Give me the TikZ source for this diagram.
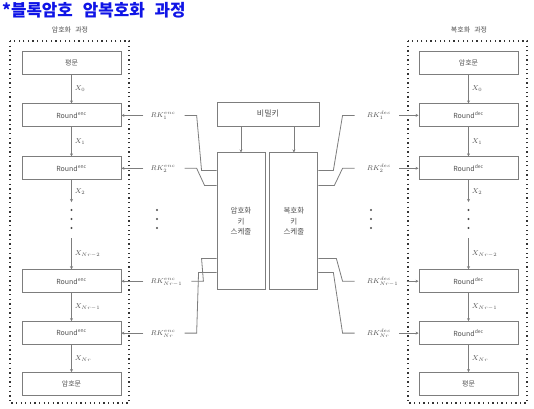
\documentclass[tikz,border=0pt]{standalone}
\usepackage{fontspec}
\usetikzlibrary{positioning,arrows.meta}
\newfontfamily\kr{Noto Sans CJK KR}
\newfontfamily\krtitle[WordSpace=2.6]{Noto Sans CJK KR}
\definecolor{titleblue}{RGB}{15,20,230}
\definecolor{wiregray}{RGB}{125,125,125}
\definecolor{textgray}{RGB}{80,80,80}

\begin{document}
\begin{tikzpicture}
	[x=1pt,y=-1pt,
	stage/.style={rectangle,draw=wiregray,line width=0.9pt,inner sep=0pt,minimum width=99pt,minimum height=23pt,font=\kr\fontsize{7}{8}\selectfont,text=textgray},
	sched/.style={rectangle,draw=wiregray,line width=0.9pt,inner sep=0pt,minimum width=48pt,minimum height=137pt,align=center,font=\kr\fontsize{7.5}{10.5}\selectfont,text=textgray},
	keylbl/.style={inner sep=1pt,text height=6pt,text depth=2pt,font=\fontsize{7}{8}\selectfont,text=textgray},
	xlbl/.style={right,inner sep=3pt,font=\fontsize{7}{8}\selectfont,text=textgray},
	ttl/.style={font=\kr\fontsize{7}{8}\selectfont,text=textgray},
	frame/.style={draw=black!80,line width=1.3pt,dash pattern=on 1.3pt off 3.3pt},
	wire/.style={draw=wiregray,line width=0.8pt},
	arr/.style={wire,-{Stealth[length=3pt,width=3pt]}}]
	\useasboundingbox (0,0) rectangle (534,408);

	\node [anchor=west,inner sep=0pt,text=titleblue,font=\krtitle\bfseries\fontsize{16.8}{18}\selectfont] (title) at (2,10) {*블록암호 암복호화 과정};

	% encryption side
	\draw [frame] (10,41) rectangle (129,403);
	\node [ttl] (encttl) at (70,30) {암호화 과정};
	\node [stage] (pa) at (71.5,62.5) {평문};
	\node [stage] (ea1) [below=29pt of pa] {Round\textsuperscript{enc}};
	\node [stage] (ea2) [below=29pt of ea1] {Round\textsuperscript{enc}};
	\node [stage] (ea3) [below=89pt of ea2] {Round\textsuperscript{enc}};
	\node [stage] (ea4) [below=28pt of ea3] {Round\textsuperscript{enc}};
	\node [stage] (ca) [below=27pt of ea4] {암호문};
	\coordinate (ga) at (71.5,202);
	\coordinate (ha) at (71.5,238);

	\draw [arr] (pa) -- node [xlbl]{$X_0$} (ea1);
	\draw [arr] (ea1) -- node [xlbl]{$X_1$} (ea2);
	\draw [arr] (ea2) -- node [xlbl]{$X_2$} (ga);
	\draw [arr] (ha) -- node [xlbl]{$X_{Nr-2}$} (ea3);
	\draw [arr] (ea3) -- node [xlbl]{$X_{Nr-1}$} (ea4);
	\draw [arr] (ea4) -- node [xlbl]{$X_{Nr}$} (ca);

	% decryption side
	\draw [frame] (408,41) rectangle (527,403);
	\node [ttl] (decttl) at (469,30) {복호화 과정};
	\node [stage] (cb) at (468.5,62.5) {암호문};
	\node [stage] (db1) [below=29pt of cb] {Round\textsuperscript{dec}};
	\node [stage] (db2) [below=29pt of db1] {Round\textsuperscript{dec}};
	\node [stage] (db3) [below=89pt of db2] {Round\textsuperscript{dec}};
	\node [stage] (db4) [below=28pt of db3] {Round\textsuperscript{dec}};
	\node [stage] (pb) [below=27pt of db4] {평문};
	\coordinate (gb) at (468.5,202);
	\coordinate (hb) at (468.5,238);

	\draw [arr] (cb) -- node [xlbl]{$X_0$} (db1);
	\draw [arr] (db1) -- node [xlbl]{$X_1$} (db2);
	\draw [arr] (db2) -- node [xlbl]{$X_2$} (gb);
	\draw [arr] (hb) -- node [xlbl]{$X_{Nr-2}$} (db3);
	\draw [arr] (db3) -- node [xlbl]{$X_{Nr-1}$} (db4);
	\draw [arr] (db4) -- node [xlbl]{$X_{Nr}$} (pb);

	% key schedule
	\node [stage,minimum width=102pt,minimum height=24pt,font=\kr\fontsize{8}{9}\selectfont] (key) at (268,114) {비밀키};
	\node [sched] (s1) [below right=26pt and 0pt of key.south west] {암호화\\키\\스케줄};
	\node [sched] (s2) [right=4pt of s1] {복호화\\키\\스케줄};
	\draw [arr] (s1.north |- key.south) -- (s1.north);
	\draw [arr] (s2.north |- key.south) -- (s2.north);

	% round keys
	\node [keylbl] (ka1) [right=28pt of ea1] {$RK^{enc}_1$};
	\node [keylbl] (ka2) [right=28pt of ea2] {$RK^{enc}_2$};
	\node [keylbl] (ka3) [right=28pt of ea3] {$RK^{enc}_{Nr-1}$};
	\node [keylbl] (ka4) [right=28pt of ea4] {$RK^{enc}_{Nr}$};
	\node [keylbl] (kb1) [left=53pt of db1,anchor=west] {$RK^{dec}_1$};
	\node [keylbl] (kb2) [left=53pt of db2,anchor=west] {$RK^{dec}_2$};
	\node [keylbl] (kb3) [left=53pt of db3,anchor=west] {$RK^{dec}_{Nr-1}$};
	\node [keylbl] (kb4) [left=53pt of db4,anchor=west] {$RK^{dec}_{Nr}$};

	\draw [arr,shorten <=6pt] (ka1.west) -- (ea1.east);
	\draw [arr,shorten <=6pt] (ka2.west) -- (ea2.east);
	\draw [arr,shorten <=6pt] (ka3.west) -- (ea3.east);
	\draw [arr,shorten <=6pt] (ka4.west) -- (ea4.east);
	\draw [arr,shorten <=7pt] (kb1.east) -- (db1.west);
	\draw [arr,shorten <=7pt] (kb2.east) -- (db2.west);
	\draw [arr,shorten <=7pt] (kb3.east) -- (db3.west);
	\draw [arr,shorten <=7pt] (kb4.east) -- (db4.west);

	\draw [wire] (ka1.east) ++(8,0) -- ++(12,0) -- ([xshift=-15pt,yshift=-18pt]s1.north west) -- ([yshift=-18pt]s1.north west);
	\draw [wire] (ka2.east) ++(8,0) -- ++(12,0) -- ([xshift=-12pt,yshift=-33pt]s1.north west) -- ([yshift=-33pt]s1.north west);
	\draw [wire] (ka3.east) ++(8,0) -- ++(12,0) -- ([xshift=-15pt,yshift=-106pt]s1.north west) -- ([yshift=-106pt]s1.north west);
	\draw [wire] (ka4.east) ++(8,0) -- ++(12,0) -- ([xshift=-18pt,yshift=-120pt]s1.north west) -- ([yshift=-120pt]s1.north west);
	\draw [wire] (kb1.west) ++(-11,0) -- ++(-12,0) -- ([xshift=15pt,yshift=-18pt]s2.north east) -- ([yshift=-18pt]s2.north east);
	\draw [wire] (kb2.west) ++(-11,0) -- ++(-12,0) -- ([xshift=16pt,yshift=-33pt]s2.north east) -- ([yshift=-33pt]s2.north east);
	\draw [wire] (kb3.west) ++(-11,0) -- ++(-12,0) -- ([xshift=18pt,yshift=-106pt]s2.north east) -- ([yshift=-106pt]s2.north east);
	\draw [wire] (kb4.west) ++(-11,0) -- ++(-12,0) -- ([xshift=15pt,yshift=-120pt]s2.north east) -- ([yshift=-120pt]s2.north east);

	% vertical dots
	\foreach \y in {210,219,228}{
		\fill [black!70] (71.5,\y) circle (1.2pt);
		\fill [black!70] (157,\y) circle (1.2pt);
		\fill [black!70] (371,\y) circle (1.2pt);
		\fill [black!70] (468.5,\y) circle (1.2pt);
	}
\end{tikzpicture}
\end{document}
